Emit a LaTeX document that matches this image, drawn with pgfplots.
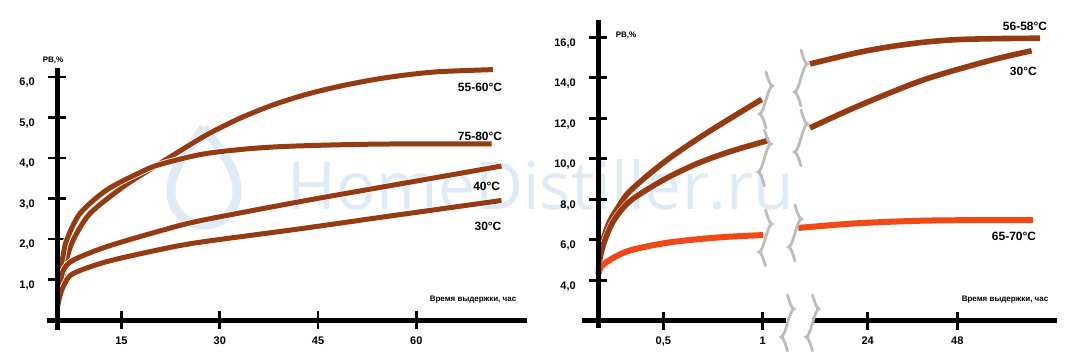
\documentclass[border=0pt]{standalone}
\usepackage{pgfplots}
\pgfplotsset{compat=1.18}
\usepackage{fontspec}
\setmainfont{Liberation Sans}
\newfontfamily\wmfont{Open Sans}
\definecolor{brn}{RGB}{150,58,18}
\definecolor{org}{RGB}{240,72,22}
\definecolor{wmc}{RGB}{222,235,247}
\definecolor{brkc}{RGB}{188,188,188}
\newcommand\squig[2]{\draw[brkc, line width=2.8pt, line cap=round] (#1pt,#2pt) sin ++(6.5pt,-14pt) cos ++(-6.5pt,-14pt) sin ++(-6.5pt,-14pt) cos ++(6.5pt,-14pt);}
\pgfplotsset{
  myax/.style={
    scale only axis, anchor=south west,
    axis lines=left, axis line style={draw=none},
    clip=false,
    tick align=center, major tick length=18pt,
    tick style={black, line width=2.6pt},
    ticklabel style={font=\fontsize{11}{13}\selectfont\bfseries, text=black},
    yticklabel style={anchor=east, yshift=-6pt, xshift=-10pt},
    xticklabel style={anchor=north, yshift=-4pt},
  },
  crv/.style={brn, line width=5pt, smooth, tension=0.5, preaction={draw=white, line width=6.6pt}},
}
\begin{document}
\begin{tikzpicture}
\path[use as bounding box] (0pt,0pt) rectangle (1081pt,354pt);
% watermark
\node[text=wmc, inner sep=0pt, anchor=base] at (541pt,144pt) {\resizebox{506pt}{50pt}{\wmfont HomeDistiller.ru}};
\draw[wmc, line width=9pt] (204pt,227pt) .. controls (214pt,210pt) and (237pt,190pt) .. (237pt,162pt)
  arc[start angle=0, end angle=-180, radius=33pt] .. controls (171pt,190pt) and (194pt,210pt) .. (204pt,227pt);

% ---------------- left panel
\begin{axis}[myax,
  at={(57.3pt,34pt)}, width=469.7pt, height=252pt,
  xmin=5.2, xmax=76.9, ymin=0, ymax=6.22,
  xtick={15,30,45,60}, xticklabels={15,30,45,60},
  ytick={1,2,3,4,5,6},
  yticklabels={{1,0},{2,0},{3,0},{4,0},{5,0},{6,0}},
]
% 55-60
\addplot[crv] coordinates {(5.3,0.37) (5.88,0.91) (6.64,1.5) (7.65,1.98) (10.2,2.63) (15.28,3.29) (19,3.68) (22.9,4.07) (28.0,4.57) (33.08,4.98) (38.16,5.31) (43.25,5.57) (48.33,5.77) (53.41,5.93) (58.5,6.05) (63.58,6.13) (71.7,6.18)};
% 75-80
\addplot[crv] coordinates {(5.3,0.37) (5.62,1.15) (6.1,1.6) (6.64,1.98) (8.67,2.63) (12.74,3.21) (17.82,3.64) (20.9,3.84) (28,4.11) (38.16,4.27) (53.4,4.34) (71.5,4.35)};
% 40
\addplot[crv] coordinates {(5.3,0.37) (5.6,0.85) (6.13,1.23) (7.65,1.48) (12.74,1.81) (20.9,2.2) (27,2.45) (42.2,2.92) (54.4,3.27) (73,3.80)};
% 30
\addplot[crv] coordinates {(5.3,0.37) (5.7,0.65) (6.38,0.91) (7.65,1.15) (12.74,1.44) (20.9,1.74) (27,1.92) (42.2,2.25) (54.4,2.53) (73,2.95)};
\end{axis}

% ---------------- right panel
\begin{axis}[myax,
  at={(598.3pt,33.3pt)}, width=458.4pt, height=300.7pt,
  xmin=0.173, xmax=2.479, ymin=2, ymax=16.85,
  xtick={0.5,1,1.528,1.979}, xticklabels={{0,5},1,24,48},
  ytick={4,6,8,10,12,14,16},
  yticklabels={{4,0},{6,0},{8,0},{10,0},{12,0},{14,0},{16,0}},
]
% 56-58
\addplot[crv, line width=5.6pt] coordinates {(0.173,4.3) (0.18,5.3) (0.2,6.1) (0.23,6.9) (0.266,7.5) (0.332,8.4) (0.5,9.8) (0.668,10.95) (0.835,11.98) (0.995,12.93)};
\addplot[crv, line width=5.6pt] coordinates {(1.238,14.68) (1.473,15.23) (1.640,15.53) (1.808,15.75) (1.976,15.88) (2.177,15.93) (2.395,15.95)};
% 30
\addplot[crv, line width=5.6pt] coordinates {(0.173,4.3) (0.18,5.0) (0.2,5.8) (0.248,6.9) (0.332,7.9) (0.5,8.95) (0.668,9.75) (0.835,10.35) (1.033,10.92)};
\addplot[crv, line width=5.6pt] coordinates {(1.238,11.52) (1.473,12.57) (1.808,13.89) (2.143,14.85) (2.353,15.33)};
% 65-70
\addplot[crv, org, line width=6pt] coordinates {(0.173,4.3) (0.19,4.7) (0.248,5.1) (0.332,5.47) (0.5,5.82) (0.668,6.02) (0.835,6.15) (1.003,6.23)};
\addplot[crv, org, line width=6pt] coordinates {(1.179,6.58) (1.473,6.81) (1.808,6.94) (2.143,6.97) (2.360,6.97)};
\end{axis}

% axis lines
\draw[black, line width=5pt] (57.3pt,286pt) -- (57.3pt,24pt);
\draw[black, line width=5pt] (47pt,34pt) -- (527pt,34pt);
\draw[black, line width=5pt] (598.3pt,334pt) -- (598.3pt,26pt);
\draw[black, line width=5pt] (581.7pt,33.3pt) -- (786pt,33.3pt);
\draw[black, line width=5pt] (812pt,33.3pt) -- (1056.7pt,33.3pt);

% break marks
\squig{766}{282}\squig{764.5}{224}\squig{765.5}{144}\squig{787.5}{59}
\squig{801}{304}\squig{801}{244}\squig{795}{149}\squig{812.5}{59}

% labels
\begin{scope}[every node/.style={font=\fontsize{12}{14}\selectfont\bfseries, inner sep=0pt}]
\node at (480pt,266.7pt) {55-60°C};
\node at (480pt,217.3pt) {75-80°C};
\node at (486.7pt,167.3pt) {40°C};
\node at (488pt,128pt) {30°C};
\node at (1025pt,328pt) {56-58°C};
\node at (1023.3pt,282.3pt) {30°C};
\node at (1014pt,117.3pt) {65-70°C};
\end{scope}
\begin{scope}[every node/.style={font=\fontsize{8}{10}\selectfont\bfseries, inner sep=0pt}]
\node at (473pt,54.7pt) {Время выдержки, час};
\node at (1005pt,54.7pt) {Время выдержки, час};
\node at (53pt,293.3pt) {РВ,\%};
\node at (626pt,319pt) {РВ,\%};
\end{scope}
\end{tikzpicture}
\end{document}
